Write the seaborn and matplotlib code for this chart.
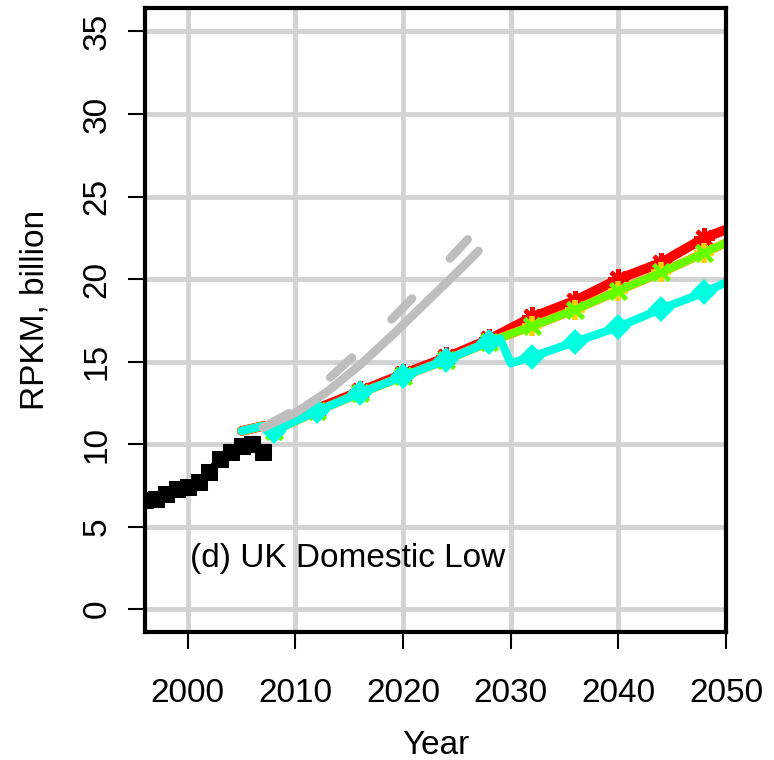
import matplotlib
matplotlib.use("Agg")
import matplotlib.pyplot as plt
import numpy as np
import pandas as pd
import seaborn as sns

# Historical (black)
hist_years = [1996, 1997, 1998, 1999, 2000, 2001, 2002, 2003, 2004, 2005, 2006, 2007]
hist_vals = [6.6, 6.7, 7.0, 7.3, 7.4, 7.7, 8.3, 9.1, 9.5, 9.9, 10.0, 9.5]

# Older forecasts (grey)
grey_solid_years = [2007, 2010, 2013, 2016, 2019, 2022, 2025, 2027]
grey_solid_vals = [11.0, 11.9, 13.2, 14.8, 16.6, 18.5, 20.4, 21.7]
grey_dash_years = [2007, 2010, 2013, 2016, 2019, 2022, 2024, 2026]
grey_dash_vals = [11.0, 12.1, 13.9, 15.7, 17.6, 19.6, 21.0, 22.4]

# Scenarios
scen_years = [2005, 2007, 2008, 2012, 2016, 2020, 2024, 2028, 2032, 2036, 2040, 2044, 2048, 2050]
red_vals = [10.8, 11.1, 10.95, 12.15, 13.2, 14.25, 15.25, 16.35, 17.7, 18.7, 20.0, 21.0, 22.5, 23.0]
orange_vals = [10.8, 11.1, 10.8, 12.0, 13.1, 14.1, 15.1, 16.2, 17.15, 18.15, 19.3, 20.4, 21.6, 22.2]
green_vals = [10.8, 11.1, 10.8, 12.0, 13.1, 14.1, 15.1, 16.2, 17.15, 18.15, 19.3, 20.4, 21.6, 22.2]

cyan_years = [2005, 2007, 2008, 2012, 2016, 2020, 2024, 2028, 2029, 2030, 2032, 2036, 2040, 2044, 2048, 2050]
cyan_vals = [10.8, 11.1, 10.8, 12.0, 13.1, 14.1, 15.1, 16.2, 16.4, 14.9, 15.3, 16.2, 17.1, 18.2, 19.2, 19.8]

x_ticks = [2000, 2010, 2020, 2030, 2040, 2050]
y_ticks = [0, 5, 10, 15, 20, 25, 30, 35]

sns.set_style("white")
plt.rcParams['font.family'] = ['Liberation Sans', 'DejaVu Sans']
plt.rcParams['text.color'] = 'black'
plt.rcParams['axes.labelcolor'] = 'black'
plt.rcParams['xtick.color'] = 'black'
plt.rcParams['ytick.color'] = 'black'

fig = plt.figure(figsize=(7.74, 7.60), dpi=100)
ax = fig.add_axes([0.187, 0.168, 0.751, 0.821])

scen_marks = [2, 3, 4, 5, 6, 7, 8, 9, 10, 11, 12]
cyan_marks = [2, 3, 4, 5, 6, 7, 10, 11, 12, 13, 14]

sns.lineplot(x=scen_years, y=red_vals, color="red", lw=7, marker=(8, 2, 0),
             ms=15, mew=3, mec="red", markevery=scen_marks, ax=ax)
sns.lineplot(x=scen_years, y=orange_vals, color="orange", lw=6.5, marker="+",
             ms=14, mew=4, mec="#FFD000", markevery=scen_marks, ax=ax)
sns.lineplot(x=scen_years, y=green_vals, color="#66FF00", lw=5.5, marker="x",
             ms=12, mew=3.5, mec="#66FF00", markevery=scen_marks, ax=ax)
sns.lineplot(x=cyan_years, y=cyan_vals, color="#00FFE1", lw=6, marker="D",
             ms=10, mew=3, mec="#00FFE1", mfc="#00FFE1", markevery=cyan_marks, ax=ax)

sns.lineplot(x=grey_solid_years, y=grey_solid_vals, color="#BEBEBE", lw=6.2,
             solid_capstyle="round", ax=ax)
sns.lineplot(x=grey_dash_years, y=grey_dash_vals, color="#BEBEBE", lw=6.2,
             linestyle=(0, (3.4, 6.4)), dash_capstyle="round", ax=ax)

sns.lineplot(x=hist_years, y=hist_vals, color="black", lw=6, marker="s",
             ms=11, mec="black", mfc="black", ax=ax)

ax.text(2000.2, 3.05, "(d) UK Domestic Low", fontsize=24, ha="left", va="center")

ax.set_xlim(1996, 2050)
ax.set_ylim(-1.4, 36.4)
ax.set_xticks(x_ticks)
ax.set_yticks(y_ticks)
ax.grid(True, color="#D3D3D3", lw=3.5)
ax.set_axisbelow(True)

for s in ax.spines.values():
    s.set_color("black")
    s.set_linewidth(3)

ax.tick_params(direction="out", length=12, width=1.5, color="black",
               labelcolor="black", labelsize=24, left=True, bottom=True)
ax.tick_params(axis="x", pad=21)
ax.tick_params(axis="y", pad=11)
for lab in ax.get_yticklabels():
    lab.set_rotation(90)
    lab.set_va("center")

ax.set_xlabel("Year", fontsize=24)
ax.set_ylabel("RPKM, billion", fontsize=24)
ax.xaxis.set_label_coords(0.5, -0.157)
ax.yaxis.set_label_coords(-0.162, 0.516)

fig.savefig("out.png", dpi=100)
